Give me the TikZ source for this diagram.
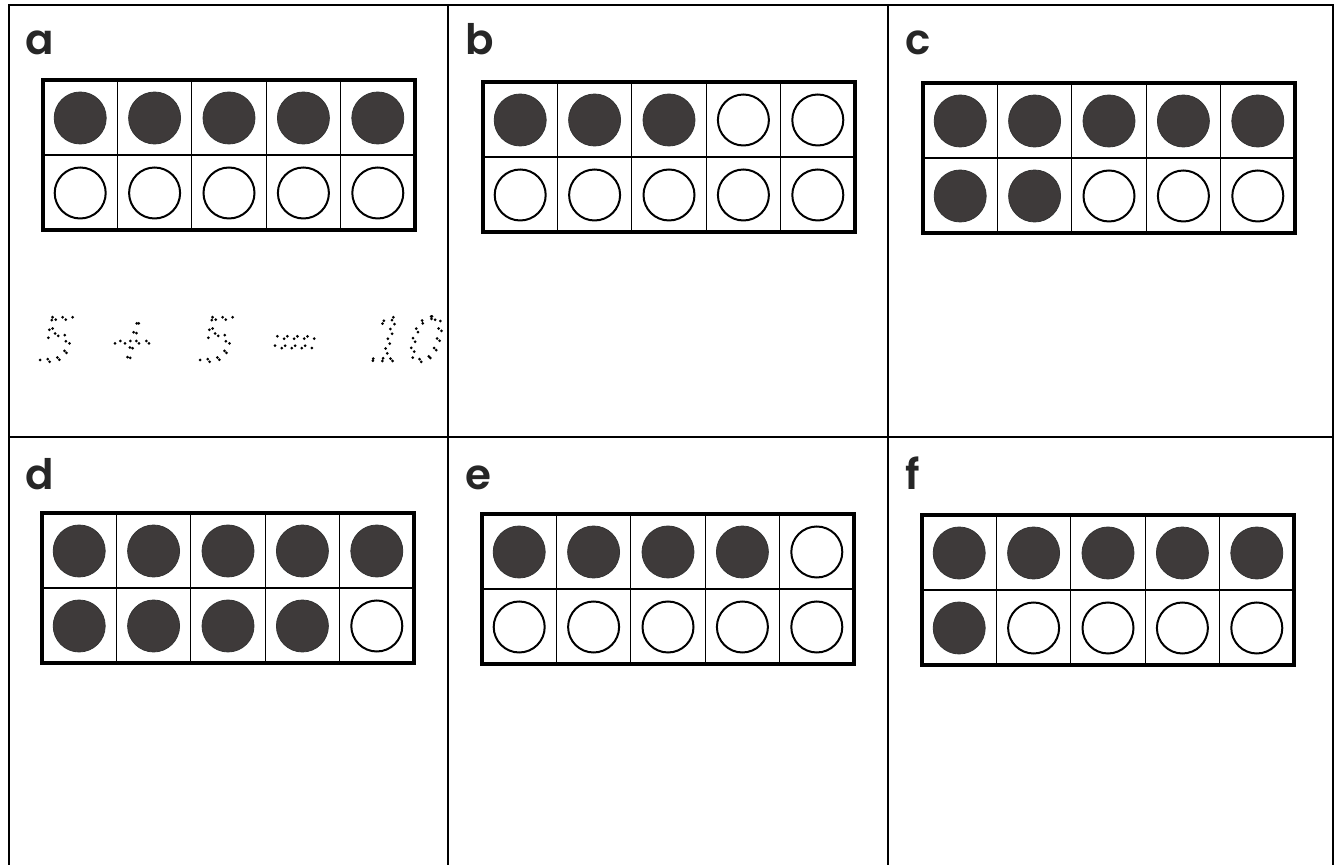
\documentclass[tikz,border=0pt]{standalone}
\usepackage{fontspec}
\setmainfont{Poppins}
\newfontfamily\letra{Poppins SemiBold}
\newfontfamily\punteada[FakeSlant=0.25]{DejaVu Sans ExtraLight}
\usepackage{xcolor}
\usepackage{tikz}

\definecolor{ficha}{RGB}{62,58,58}

% Texto punteado (contorno a puntos)
\newcommand{\trazo}[1]{\special{pdf:literal direct 1 Tr 1 J [0 5] 0 d 1.5 w}#1\special{pdf:literal direct 0 Tr [] 0 d}}

% Marco de diez: esquina, fichas llenas
\newcommand{\marcodiez}[3]{%
  \foreach \i in {0,...,4} {
    \foreach \j in {0,1} {
      \pgfmathtruncatemacro\k{\j*5+\i+1}
      \draw[celda] (#1+\i*74.4,#2+\j*75) rectangle ++(74.4,75);
      \ifnum\k>#3
        \draw[vacio] (#1+\i*74.4+37.2,#2+\j*75+38) circle (25.5);
      \else
        \filldraw[lleno] (#1+\i*74.4+37.2,#2+\j*75+38) circle (26);
      \fi
    }
  }
  \draw[borde] (#1,#2) rectangle ++(372,150);
}

\begin{document}
\begin{tikzpicture}[x=0.5pt,y=-0.5pt,
    rejilla/.style={line width=1.1pt},
    celda/.style={line width=0.6pt},
    borde/.style={line width=1.6pt},
    lleno/.style={fill=ficha,draw=black!80,line width=0.4pt},
    vacio/.style={line width=1pt},
    etiqueta/.style={anchor=base west,inner sep=0pt,text=black!85,font=\fontsize{21}{21}\selectfont\letra},
    punto/.style={anchor=base,inner sep=0pt,font=\fontsize{30}{30}\selectfont\punteada}]

    \useasboundingbox (0,0) rectangle (1340,865);

    % Rejilla de la hoja
    \draw[rejilla] (9,865) -- (9,5) -- (1333,5) -- (1333,865);
    \draw[rejilla] (448,5) -- (448,865);
    \draw[rejilla] (888,5) -- (888,865);
    \draw[rejilla] (9,437) -- (1333,437);

    % Letras
    \node[etiqueta] (la) at (25,55) {a};
    \node[etiqueta] (lb) at (465,55) {b};
    \node[etiqueta] (lc) at (905,55) {c};
    \node[etiqueta] (ld) at (25,490) {d};
    \node[etiqueta] (le) at (465,490) {e};
    \node[etiqueta] (lf) at (905,490) {f};

    % Marcos
    \marcodiez{43}{80}{5}
    \marcodiez{483}{82}{3}
    \marcodiez{923}{83}{7}
    \marcodiez{42}{513}{9}
    \marcodiez{482}{514}{4}
    \marcodiez{922}{515}{6}

    % Suma para repasar
    \node[punto] (s1) at (53,361) {\trazo{5}};
    \node[punto] (mas) at (128,361) {\trazo{+}};
    \node[punto] (s2) at (213,361) {\trazo{5}};
    \node[punto] (igual) at (290,361) {\trazo{=}};
    \node[punto] (total) at (402,361) {\trazo{10}};

\end{tikzpicture}
\end{document}
